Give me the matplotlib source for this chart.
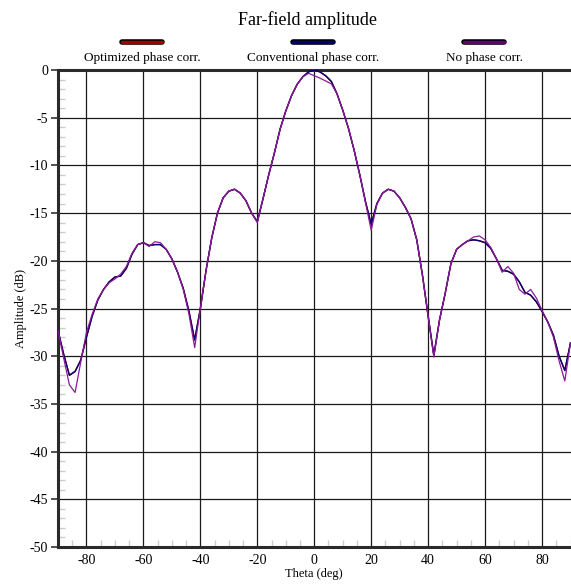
"""
Far-field amplitude pattern: three phase correction variants.
"""

import matplotlib
matplotlib.use("Agg")
import matplotlib.pyplot as plt
import matplotlib.patheffects as pe
from matplotlib.lines import Line2D
from matplotlib.ticker import MultipleLocator


THETA = list(range(-90, 91, 2))

CONVENTIONAL = [
    -27.3, -29.8, -32.0, -31.6, -30.4, -28.0, -25.8, -24.1, -23.0, -22.2,
    -21.7, -21.6, -20.8, -19.3, -18.3, -18.1, -18.4, -18.3, -18.3, -18.8,
    -19.8, -21.2, -22.9, -25.3, -28.3, -25.0, -21.0, -17.6, -15.0, -13.4,
    -12.7, -12.5, -12.9, -13.7, -15.0, -15.9, -13.5, -11.0, -8.7, -6.2,
    -4.3, -2.7, -1.5, -0.7, -0.2, 0.0, -0.2, -0.6, -1.2, -2.5,
    -4.2, -6.1, -8.4, -11.0, -13.8, -16.2, -14.0, -12.9, -12.5, -12.7,
    -13.4, -14.4, -15.6, -17.8, -21.5, -25.8, -29.9, -26.2, -23.4, -20.3,
    -18.8, -18.3, -17.9, -17.8, -17.9, -18.1, -18.7, -19.8, -21.0, -21.1,
    -21.4, -22.2, -23.3, -23.6, -24.3, -25.3, -26.4, -27.8, -30.0, -31.5,
    -28.6,
]

OPTIMIZED = [
    -27.3, -29.8, -32.0, -31.6, -30.4, -28.0, -25.8, -24.1, -23.0, -22.2,
    -21.7, -21.6, -20.8, -19.3, -18.3, -18.1, -18.4, -18.3, -18.3, -18.8,
    -19.8, -21.2, -22.9, -25.3, -28.3, -25.0, -21.0, -17.6, -15.0, -13.4,
    -12.7, -12.5, -12.9, -13.7, -15.0, -15.9, -13.5, -11.0, -8.7, -6.2,
    -4.3, -2.7, -1.5, -0.7, -0.2, 0.0, -0.2, -0.6, -1.2, -2.5,
    -4.2, -6.1, -8.4, -11.0, -13.8, -16.2, -14.0, -12.9, -12.5, -12.7,
    -13.4, -14.4, -15.6, -17.8, -21.5, -25.8, -29.9, -26.2, -23.4, -20.3,
    -18.8, -18.3, -17.9, -17.8, -17.9, -18.1, -18.7, -19.8, -21.0, -21.1,
    -21.4, -22.2, -23.3, -23.6, -24.3, -25.3, -26.4, -27.8, -30.0, -31.5,
    -28.6,
]

NO_CORRECTION = [
    -27.3, -30.2, -33.0, -33.8, -30.6, -27.5, -25.6, -24.0, -23.0, -22.3,
    -21.9, -21.4, -20.6, -19.2, -18.3, -18.1, -18.5, -18.0, -18.1, -18.8,
    -19.8, -21.2, -23.0, -25.6, -29.1, -25.0, -21.0, -17.6, -15.0, -13.4,
    -12.7, -12.5, -12.9, -13.7, -15.0, -16.0, -13.5, -11.0, -8.7, -6.2,
    -4.3, -2.7, -1.5, -0.7, -0.35, -0.6, -0.85, -1.15, -1.45, -2.5,
    -4.2, -6.1, -8.4, -11.0, -13.9, -16.8, -14.1, -12.9, -12.5, -12.7,
    -13.4, -14.4, -15.6, -17.8, -21.5, -25.8, -30.1, -26.2, -23.4, -20.3,
    -18.8, -18.3, -17.9, -17.5, -17.4, -17.8, -18.6, -19.8, -21.2, -20.6,
    -21.3, -23.0, -23.5, -23.0, -23.9, -25.2, -26.4, -28.0, -30.5, -32.6,
    -28.6,
]

SERIES_LABELS = ["Optimized phase corr.", "Conventional phase corr.", "No phase corr."]
SERIES_COLORS = ["#a00000", "#000070", "#8a1a9a"]
LEGEND_COLORS = ["#a00000", "#000070", "#660066"]

FONT = "Liberation Serif"


def MAIN():
    plt.rcParams["font.family"] = FONT
    FIG = plt.figure(figsize=(5.71, 5.86), dpi=100)
    AX = FIG.add_axes([58 / 571, 1 - 547 / 586, 512.5 / 571, 477 / 586])

    AX.plot(THETA, OPTIMIZED, color=SERIES_COLORS[0], lw=1.0, zorder=3)
    AX.plot(THETA, CONVENTIONAL, color=SERIES_COLORS[1], lw=1.0, zorder=4)
    AX.plot(THETA, NO_CORRECTION, color=SERIES_COLORS[2], lw=0.9, zorder=5)

    AX.set_xlim(-90, 90)
    AX.set_ylim(-50, 0)
    AX.xaxis.set_major_locator(MultipleLocator(20))
    AX.xaxis.set_minor_locator(MultipleLocator(5))
    AX.yaxis.set_major_locator(MultipleLocator(5))
    AX.yaxis.set_minor_locator(MultipleLocator(1))
    AX.set_yticklabels([f"{int(V)}" for V in AX.get_yticks()])
    AX.set_xticklabels([f"{int(V)}" for V in AX.get_xticks()])

    AX.grid(True, which="major", color="#1a1a1a", lw=0.9, zorder=1)
    AX.tick_params(axis="y", which="major", direction="out", length=5, width=1.2,
                   color="#333333", labelsize=10, pad=2)
    AX.tick_params(axis="x", which="major", length=0, labelsize=10, pad=5)
    AX.tick_params(which="minor", direction="in", length=5, width=1.0, color="#cccccc")

    for SIDE in ["left", "bottom", "top"]:
        AX.spines[SIDE].set_linewidth(2.2)
        AX.spines[SIDE].set_color("#2a2a2a")
    AX.spines["right"].set_visible(False)

    AX.set_xlabel("Theta (deg)", fontsize=9, labelpad=1)
    AX.set_ylabel("Amplitude (dB)", fontsize=9, labelpad=2)

    FIG.text(307 / 571, 1 - 20 / 586, "Far-field amplitude", ha="center", va="center", fontsize=13)

    LEGEND_CENTERS = [142, 313, 484]
    for CENTER, LABEL, COLOR in zip(LEGEND_CENTERS, SERIES_LABELS, LEGEND_COLORS):
        FIG.add_artist(Line2D([(CENTER - 20) / 571, (CENTER + 20) / 571], [1 - 42 / 586] * 2,
                              transform=FIG.transFigure, color=COLOR, lw=2.5,
                              solid_capstyle="round",
                              path_effects=[pe.Stroke(linewidth=4, foreground="black"), pe.Normal()]))
        FIG.text(CENTER / 571, 1 - 58 / 586, LABEL, ha="center", va="center", fontsize=9.5)

    FIG.savefig("out.png", dpi=100)
    plt.close(FIG)


if __name__ == "__main__":
    MAIN()
